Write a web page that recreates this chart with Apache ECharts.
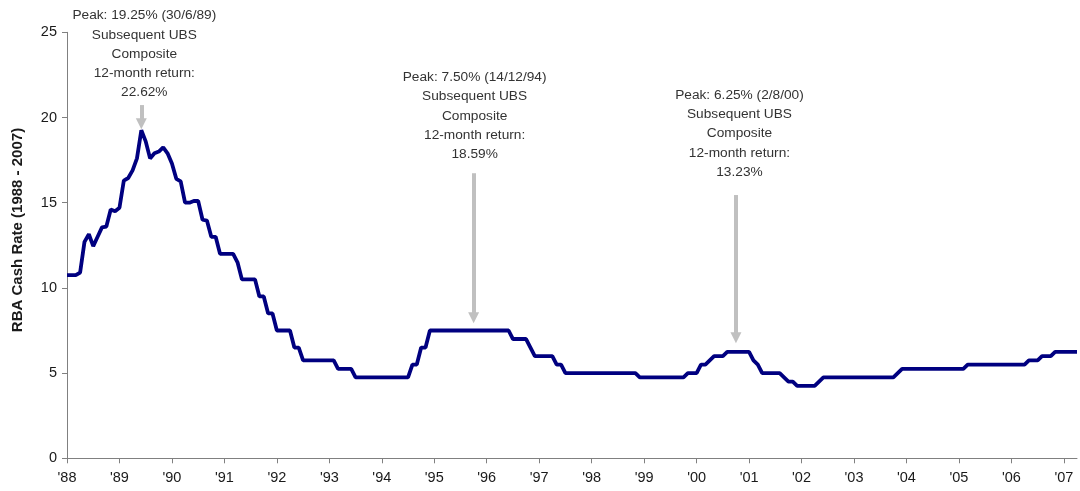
<!DOCTYPE html>
<html>
<head>
<meta charset="utf-8">
<script src="https://cdn.jsdelivr.net/npm/echarts@6/dist/echarts.min.js"></script>
<style>html,body{margin:0;padding:0;background:#fff}#c{width:1080px;height:491px}</style>
</head>
<body>
<div id="c"></div>
<script>
// Tick labels (one per year, shown every 12 months)
const tickLabels = ["'88","'89","'90","'91","'92","'93","'94","'95","'96","'97","'98","'99","'00","'01","'02","'03","'04","'05","'06","'07"];

// Monthly RBA cash rate (%), Jan 1988 - Apr 2007
const rate1988 = [10.75,10.75,10.75,10.9,12.7,13.15,12.45,13.0,13.55,13.6,14.6,14.5];
const rate1989 = [14.7,16.3,16.45,16.9,17.6,19.25,18.6,17.6,17.9,18.0,18.25,17.9];
const rate1990 = [17.3,16.4,16.25,15.0,15.0,15.1,15.1,14.0,13.95,13.0,13.0,12.0];
const rate1991 = [12.0,12.0,12.0,11.5,10.5,10.5,10.5,10.5,9.5,9.5,8.5,8.5];
const rate1992 = [7.5,7.5,7.5,7.5,6.5,6.5,5.75,5.75,5.75,5.75,5.75,5.75];
const rate1993 = [5.75,5.75,5.25,5.25,5.25,5.25,4.75,4.75,4.75,4.75,4.75,4.75];
const rate1994 = [4.75,4.75,4.75,4.75,4.75,4.75,4.75,5.5,5.5,6.5,6.5,7.5];
const rate1995 = [7.5,7.5,7.5,7.5,7.5,7.5,7.5,7.5,7.5,7.5,7.5,7.5];
const rate1996 = [7.5,7.5,7.5,7.5,7.5,7.5,7.0,7.0,7.0,7.0,6.5,6.0];
const rate1997 = [6.0,6.0,6.0,6.0,5.5,5.5,5.0,5.0,5.0,5.0,5.0,5.0];
const rate1998 = [5.0,5.0,5.0,5.0,5.0,5.0,5.0,5.0,5.0,5.0,5.0,4.75];
const rate1999 = [4.75,4.75,4.75,4.75,4.75,4.75,4.75,4.75,4.75,4.75,5.0,5.0];
const rate2000 = [5.0,5.5,5.5,5.75,6.0,6.0,6.0,6.25,6.25,6.25,6.25,6.25];
const rate2001 = [6.25,5.75,5.5,5.0,5.0,5.0,5.0,5.0,4.75,4.5,4.5,4.25];
const rate2002 = [4.25,4.25,4.25,4.25,4.5,4.75,4.75,4.75,4.75,4.75,4.75,4.75];
const rate2003 = [4.75,4.75,4.75,4.75,4.75,4.75,4.75,4.75,4.75,4.75,5.0,5.25];
const rate2004 = [5.25,5.25,5.25,5.25,5.25,5.25,5.25,5.25,5.25,5.25,5.25,5.25];
const rate2005 = [5.25,5.25,5.5,5.5,5.5,5.5,5.5,5.5,5.5,5.5,5.5,5.5];
const rate2006 = [5.5,5.5,5.5,5.5,5.75,5.75,5.75,6.0,6.0,6.0,6.25,6.25];
const rate2007 = [6.25,6.25,6.25,6.25];

// Annotation texts
const annotationTexts = [
  'Peak: 19.25% (30/6/89)\nSubsequent UBS\nComposite\n12-month return:\n22.62%',
  'Peak: 7.50% (14/12/94)\nSubsequent UBS\nComposite\n12-month return:\n18.59%',
  'Peak: 6.25% (2/8/00)\nSubsequent UBS\nComposite\n12-month return:\n13.23%'
];

const rates = [].concat(rate1988,rate1989,rate1990,rate1991,rate1992,rate1993,rate1994,rate1995,rate1996,rate1997,rate1998,rate1999,rate2000,rate2001,rate2002,rate2003,rate2004,rate2005,rate2006,rate2007);
const months = rates.map((v, i) => (1988 + Math.floor(i / 12)) + '-' + String(i % 12 + 1).padStart(2, '0'));

// Annotation placement (in data space)
const annotationLayout = [
  {index: 17,  textBottom: 20.86, dx: 3,   arrowTop: 20.73, arrowHead: 19.63},
  {index: 93,  textBottom: 17.23, dx: 1,   arrowTop: 16.73, arrowHead: 8.25},
  {index: 153, textBottom: 16.19, dx: 3.5, arrowTop: 15.45, arrowHead: 7.07}
];

const FONT = '"Liberation Sans", Arial, Helvetica, sans-serif';
const chart = echarts.init(document.getElementById('c'));
chart.setOption({
  animation: false,
  grid: {left: 67, right: 3, top: 32.3, bottom: 32.7},
  xAxis: {
    type: 'category', data: months, boundaryGap: false,
    axisLine: {lineStyle: {color: '#808080', width: 1}},
    axisTick: {show: true, interval: 11, length: 5, lineStyle: {color: '#808080'}},
    axisLabel: {interval: 11, margin: 12, color: '#1a1a1a', fontSize: 14.5, fontFamily: FONT,
      formatter: (v, i) => tickLabels[Math.round(i / 12)]},
    splitLine: {show: false}
  },
  yAxis: {
    type: 'value', min: 0, max: 25, interval: 5,
    axisLine: {show: true, lineStyle: {color: '#808080', width: 1}},
    axisTick: {show: true, length: 5, lineStyle: {color: '#808080'}},
    axisLabel: {margin: 10, color: '#1a1a1a', fontSize: 14.5, fontFamily: FONT},
    splitLine: {show: false}
  },
  series: [{
    type: 'line', data: rates, symbol: 'none', showSymbol: false,
    lineStyle: {color: '#000080', width: 3.8}, itemStyle: {color: '#000080'},
    z: 3,
    markLine: {
      silent: true, symbol: ['none', 'triangle'], symbolSize: 11,
      label: {show: false},
      lineStyle: {color: '#c0c0c0', width: 4, type: 'solid'},
      itemStyle: {color: '#c0c0c0'},
      emphasis: {disabled: true},
      data: annotationLayout.map(a => [{coord: [a.index, a.arrowTop]}, {coord: [a.index, a.arrowHead]}])
    },
    markPoint: {
      silent: true, symbol: 'circle', symbolSize: 1,
      itemStyle: {color: 'rgba(0,0,0,0)'},
      data: annotationLayout.map((a, k) => ({
        coord: [a.index, a.textBottom],
        label: {show: true, position: 'top', distance: 0, offset: [a.dx, 0],
          formatter: annotationTexts[k], color: '#333333', fontSize: 13.7,
          lineHeight: 19.3, fontFamily: FONT, align: 'center'}
      }))
    }
  }],
  graphic: [{
    type: 'text', x: 17.5, y: 230, rotation: Math.PI / 2,
    style: {text: 'RBA Cash Rate (1988 - 2007)', font: 'bold 15px "Liberation Sans", Arial, sans-serif',
      fill: '#1a1a1a', align: 'center', verticalAlign: 'middle', textAlign: 'center', textVerticalAlign: 'middle'}
  }]
});
</script>
</body>
</html>
